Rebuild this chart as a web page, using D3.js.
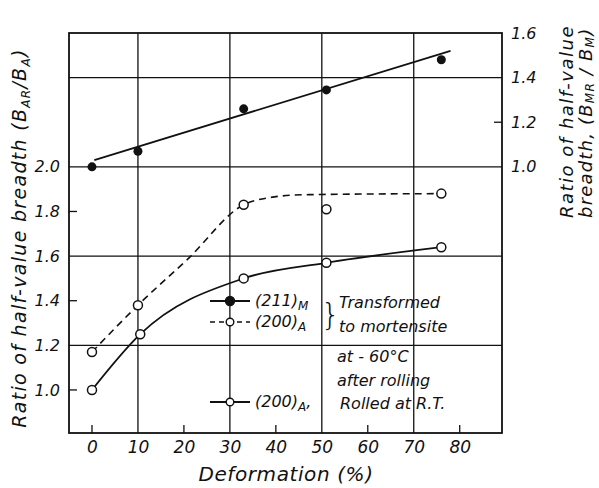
<!DOCTYPE html>
<html>
<head>
<meta charset="utf-8">
<script src="https://cdn.jsdelivr.net/npm/d3@7"></script>
<style>
  body { margin: 0; background: #fff; }
  svg text { font-family: "DejaVu Sans", sans-serif; font-style: italic; fill: #111; }
</style>
</head>
<body>
<svg id="chart" width="599" height="488"></svg>
<script>
// data
var xTicks = [0, 10, 20, 30, 40, 50, 60, 70, 80];
var leftTicks = [1.0, 1.2, 1.4, 1.6, 1.8, 2.0];
var rightTicks = [1.0, 1.2, 1.4, 1.6];

// (211)M  - right axis, filled dots and fitted straight line
var mX = [0, 10, 33, 51, 76];
var mY = [1.00, 1.07, 1.26, 1.345, 1.48];
var mFitX = [0.5, 78];
var mFitY = [1.03, 1.52];

// (200)A transformed to martensite - left axis, dashed
var tX = [0, 10, 33, 51, 76];
var tY = [1.17, 1.38, 1.83, 1.81, 1.88];
var tCurveX = [0, 10, 21, 33, 38, 46, 76];
var tCurveY = [1.17, 1.38, 1.59, 1.83, 1.86, 1.875, 1.88];

// (200)A rolled at R.T. - left axis, solid
var rX = [0, 10.5, 33, 51, 76];
var rY = [1.00, 1.25, 1.50, 1.57, 1.64];

var svg = d3.select("#chart");
var pL = 69, pR = 502, pT = 33, pB = 433;

var x = d3.scaleLinear().domain([-5, 89.2]).range([pL, pR]);
var yL = d3.scaleLinear().domain([0.807, 2.6]).range([pB, pT]);
var yR = d3.scaleLinear().domain([-0.193, 1.6]).range([pB, pT]);

// grid lines
var g = svg.append("g").attr("stroke", "#111").attr("stroke-width", 1.3);
[10, 30, 50, 70].forEach(function (v) {
    g.append("line").attr("x1", x(v)).attr("x2", x(v)).attr("y1", pT).attr("y2", pB);
});
[1.2, 1.6, 2.0, 2.4].forEach(function (v) {
    g.append("line").attr("x1", pL).attr("x2", pR).attr("y1", yL(v)).attr("y2", yL(v));
});
svg.append("rect").attr("x", pL).attr("y", pT)
    .attr("width", pR - pL).attr("height", pB - pT)
    .attr("fill", "none").attr("stroke", "#111").attr("stroke-width", 1.8);

// axes
var xAxis = svg.append("g").attr("transform", "translate(0," + pB + ")")
    .call(d3.axisBottom(x).tickValues(xTicks).tickSize(0).tickPadding(8).tickFormat(d3.format("d")));
xAxis.select(".domain").remove();
xAxis.selectAll("text").style("font-size", "17px");
[0, 20, 40, 60, 80].forEach(function (v) {
    svg.append("line").attr("x1", x(v)).attr("x2", x(v)).attr("y1", pB).attr("y2", pB - 8)
        .attr("stroke", "#111").attr("stroke-width", 1.3);
});

var yAxisL = svg.append("g").attr("transform", "translate(" + pL + ",0)")
    .call(d3.axisLeft(yL).tickValues(leftTicks).tickSize(0).tickPadding(9).tickFormat(d3.format(".1f")));
yAxisL.select(".domain").remove();
yAxisL.selectAll("text").style("font-size", "16px");
[1.0, 1.4, 1.8].forEach(function (v) {
    svg.append("line").attr("x1", pL).attr("x2", pL + 8).attr("y1", yL(v)).attr("y2", yL(v))
        .attr("stroke", "#111").attr("stroke-width", 1.3);
});

var yAxisR = svg.append("g").attr("transform", "translate(" + pR + ",0)")
    .call(d3.axisRight(yR).tickValues(rightTicks).tickSize(0).tickPadding(9).tickFormat(d3.format(".1f")));
yAxisR.select(".domain").remove();
yAxisR.selectAll("text").style("font-size", "16px");
svg.append("line").attr("x1", pR - 8).attr("x2", pR).attr("y1", yR(1.2)).attr("y2", yR(1.2))
    .attr("stroke", "#111").attr("stroke-width", 1.3);

// axis titles
svg.append("text").attr("x", 286).attr("y", 481).attr("text-anchor", "middle")
    .style("font-size", "20px").style("letter-spacing", "0.6px").text("Deformation  (%)");

var lt = svg.append("text").attr("transform", "translate(26,238) rotate(-90)")
    .attr("text-anchor", "middle").style("font-size", "19px").style("letter-spacing", "1.3px");
lt.append("tspan").text("Ratio of half-value breadth (B");
lt.append("tspan").attr("dy", 4).style("font-size", "12px").text("AR");
lt.append("tspan").attr("dy", -4).text("/B");
lt.append("tspan").attr("dy", 4).style("font-size", "12px").text("A");
lt.append("tspan").attr("dy", -4).text(")");

svg.append("text").attr("transform", "translate(573,218) rotate(-90)")
    .style("font-size", "18px").style("letter-spacing", "1.5px").text("Ratio of half-value");
var rt = svg.append("text").attr("transform", "translate(592,218) rotate(-90)")
    .style("font-size", "18px").style("letter-spacing", "1.2px");
rt.append("tspan").text("breadth,  (B");
rt.append("tspan").attr("dy", 2).style("font-size", "12px").text("MR");
rt.append("tspan").attr("dy", -2).text(" / B");
rt.append("tspan").attr("dy", 2).style("font-size", "12px").text("M");
rt.append("tspan").attr("dy", -2).text(")");

// lines
var fitLine = d3.line().x(function (d) { return x(d[0]); }).y(function (d) { return yR(d[1]); });
svg.append("path").datum(d3.zip(mFitX, mFitY)).attr("d", fitLine)
    .attr("fill", "none").attr("stroke", "#111").attr("stroke-width", 1.8);

var curveL = d3.line().curve(d3.curveMonotoneX)
    .x(function (d) { return x(d[0]); }).y(function (d) { return yL(d[1]); });
svg.append("path").datum(d3.zip(tCurveX, tCurveY)).attr("d", curveL)
    .attr("fill", "none").attr("stroke", "#111").attr("stroke-width", 1.6)
    .attr("stroke-dasharray", "7,5");
svg.append("path").datum(d3.zip(rX, rY)).attr("d", curveL)
    .attr("fill", "none").attr("stroke", "#111").attr("stroke-width", 1.8);

// points
svg.selectAll(".mpt").data(d3.zip(mX, mY)).join("circle").attr("class", "mpt")
    .attr("cx", function (d) { return x(d[0]); }).attr("cy", function (d) { return yR(d[1]); })
    .attr("r", 4.5).attr("fill", "#111");
svg.selectAll(".tpt").data(d3.zip(tX, tY)).join("circle").attr("class", "tpt")
    .attr("cx", function (d) { return x(d[0]); }).attr("cy", function (d) { return yL(d[1]); })
    .attr("r", 4.5).attr("fill", "#fff").attr("stroke", "#111").attr("stroke-width", 1.5);
svg.selectAll(".rpt").data(d3.zip(rX, rY)).join("circle").attr("class", "rpt")
    .attr("cx", function (d) { return x(d[0]); }).attr("cy", function (d) { return yL(d[1]); })
    .attr("r", 4.5).attr("fill", "#fff").attr("stroke", "#111").attr("stroke-width", 1.5);

// legend
function legendRow(y, dashed, filled, label, sub, tail) {
    svg.append("line").attr("x1", 210).attr("x2", 250).attr("y1", y).attr("y2", y)
        .attr("stroke", "#111").attr("stroke-width", dashed ? 1.4 : 1.8)
        .attr("stroke-dasharray", dashed ? "5,4" : null);
    svg.append("circle").attr("cx", 230).attr("cy", y).attr("r", filled ? 4.5 : 3.8)
        .attr("fill", filled ? "#111" : "#fff").attr("stroke", "#111").attr("stroke-width", 1.4);
    var t = svg.append("text").attr("x", 255).attr("y", y + 5).style("font-size", "16px");
    t.append("tspan").text(label);
    t.append("tspan").attr("dy", 4).style("font-size", "12px").text(sub);
    if (tail) t.append("tspan").attr("dy", -4).text(tail);
}
legendRow(301, false, true, "(211)", "M");
legendRow(322, true, false, "(200)", "A");
legendRow(402, false, false, "(200)", "A", ",");

svg.append("text").attr("x", 321).attr("y", 325).style("font-size", "30px")
    .style("font-style", "normal").style("font-weight", "200").text("}");

var notes = [
    ["Transformed", 339, 308],
    ["to mortensite", 339, 332],
    ["at - 60\u00b0C", 337, 362],
    ["after  rolling", 337, 386],
    ["Rolled at R.T.", 340, 409]
];
notes.forEach(function (n) {
    svg.append("text").attr("x", n[1]).attr("y", n[2]).style("font-size", "16px").text(n[0]);
});
</script>
</body>
</html>
